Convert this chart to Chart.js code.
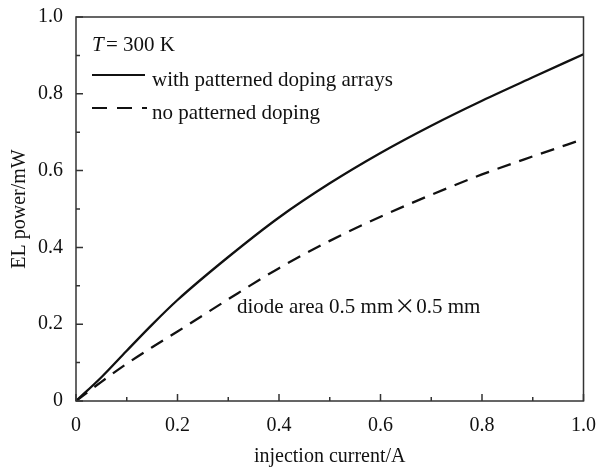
<!DOCTYPE html>
<html>
<head>
<meta charset="utf-8">
<script src="https://cdn.jsdelivr.net/npm/chart.js@4/dist/chart.umd.min.js"></script>
<style>
  body { margin: 0; background: #fff; }
  canvas { display: block; }
</style>
</head>
<body>
<canvas id="chart" width="601" height="469"></canvas>
<script>
// ---------------- DATA ----------------

const current = [0, 0.05, 0.1, 0.15, 0.2, 0.3, 0.4, 0.5, 0.6, 0.7, 0.8, 0.9, 1.0];
const withDoping = [0, 0.062, 0.131, 0.199, 0.263, 0.375, 0.478, 0.567, 0.646, 0.717, 0.782, 0.843, 0.903];
const noDoping = [0, 0.05, 0.097, 0.14, 0.181, 0.265, 0.346, 0.417, 0.48, 0.537, 0.59, 0.637, 0.682];

const majorTicks = [0, 0.2, 0.4, 0.6, 0.8, 1.0];
const minorTicks = [0.1, 0.3, 0.5, 0.7, 0.9];

const seriesNames = ["with patterned doping arrays", "no patterned doping"];
const noteText = ["diode area 0.5 mm", "\u00d7", "0.5 mm"];

const FONT = "'Liberation Serif', 'Times New Roman', serif";

function fmt(v) {
  return v === 0 ? "0" : v.toFixed(1);
}

// ---------------- PLUGIN: frame, inward ticks, legend, note ----------------

const decor = {
  id: "decor",
  afterDraw(chart) {
    const c = chart.ctx;
    const a = chart.chartArea;
    const xs = chart.scales.x;
    const ys = chart.scales.y;

    c.save();
    c.strokeStyle = "#333";
    c.lineWidth = 1.5;
    c.strokeRect(a.left, a.top, a.right - a.left, a.bottom - a.top);

    c.beginPath();
    majorTicks.forEach(v => {
      const px = xs.getPixelForValue(v);
      c.moveTo(px, a.bottom); c.lineTo(px, a.bottom - 7);
      const py = ys.getPixelForValue(v);
      c.moveTo(a.left, py); c.lineTo(a.left + 7, py);
    });
    minorTicks.forEach(v => {
      const px = xs.getPixelForValue(v);
      c.moveTo(px, a.bottom); c.lineTo(px, a.bottom - 4);
      const py = ys.getPixelForValue(v);
      c.moveTo(a.left, py); c.lineTo(a.left + 4, py);
    });
    c.stroke();

    // legend
    c.fillStyle = "#111";
    c.textBaseline = "alphabetic";
    c.font = "italic 21px " + FONT;
    c.fillText("T", 92, 51);
    c.font = "21px " + FONT;
    c.fillText("= 300 K", 106, 51);

    c.strokeStyle = "#111";
    c.lineWidth = 2.2;
    c.beginPath();
    c.moveTo(92, 75); c.lineTo(145, 75);
    c.stroke();
    c.setLineDash([15, 10]);
    c.beginPath();
    c.moveTo(92, 108); c.lineTo(147, 108);
    c.stroke();
    c.setLineDash([]);

    c.fillText(seriesNames[0], 152, 86);
    c.fillText(seriesNames[1], 152, 119);

    // note
    let x = 237;
    c.fillText(noteText[0], x, 313);
    x += c.measureText(noteText[0]).width + 1;
    c.font = "21px 'Noto Sans CJK SC'";
    c.fillText(noteText[1], x, 313);
    x += c.measureText(noteText[1]).width + 1;
    c.font = "21px " + FONT;
    c.fillText(noteText[2], x, 313);

    c.restore();
  }
};

// ---------------- CHART ----------------

const ctx = document.getElementById("chart").getContext("2d");

const chart = new Chart(ctx, {
  type: "line",
  data: {
    datasets: [
      {
        label: seriesNames[0],
        data: current.map((x, i) => ({ x, y: withDoping[i] })),
        borderColor: "#111",
        borderWidth: 2.3,
        pointRadius: 0,
        cubicInterpolationMode: "monotone"
      },
      {
        label: seriesNames[1],
        data: current.map((x, i) => ({ x, y: noDoping[i] })),
        borderColor: "#111",
        borderWidth: 2.3,
        borderDash: [14, 9],
        pointRadius: 0,
        cubicInterpolationMode: "monotone"
      }
    ]
  },
  options: {
    responsive: false,
    animation: false,
    devicePixelRatio: 1,
    layout: { padding: { left: 0, top: 16, right: 17, bottom: 0 } },
    plugins: { legend: { display: false }, tooltip: { enabled: false } },
    scales: {
      x: {
        type: "linear",
        min: 0,
        max: 1,
        afterFit: s => { s.height = 68; },
        afterBuildTicks: s => { s.ticks = majorTicks.map(v => ({ value: v })); },
        grid: { display: false },
        border: { display: false },
        ticks: {
          callback: fmt,
          autoSkip: false,
          maxRotation: 0,
          padding: 5,
          color: "#111",
          font: { family: FONT, size: 20 }
        },
        title: {
          display: true,
          text: "injection current/A",
          color: "#111",
          padding: { top: 0, bottom: 0 },
          font: { family: FONT, size: 20 }
        }
      },
      y: {
        type: "linear",
        min: 0,
        max: 1,
        afterFit: s => { s.width = 76; },
        afterBuildTicks: s => { s.ticks = majorTicks.map(v => ({ value: v })); },
        grid: { display: false },
        border: { display: false },
        ticks: {
          callback: fmt,
          autoSkip: false,
          padding: 5,
          color: "#111",
          font: { family: FONT, size: 20 }
        },
        title: {
          display: true,
          text: "EL power/mW",
          color: "#111",
          padding: { top: 8, bottom: 0 },
          font: { family: FONT, size: 20 }
        }
      }
    }
  },
  plugins: [decor]
});
</script>
</body>
</html>
